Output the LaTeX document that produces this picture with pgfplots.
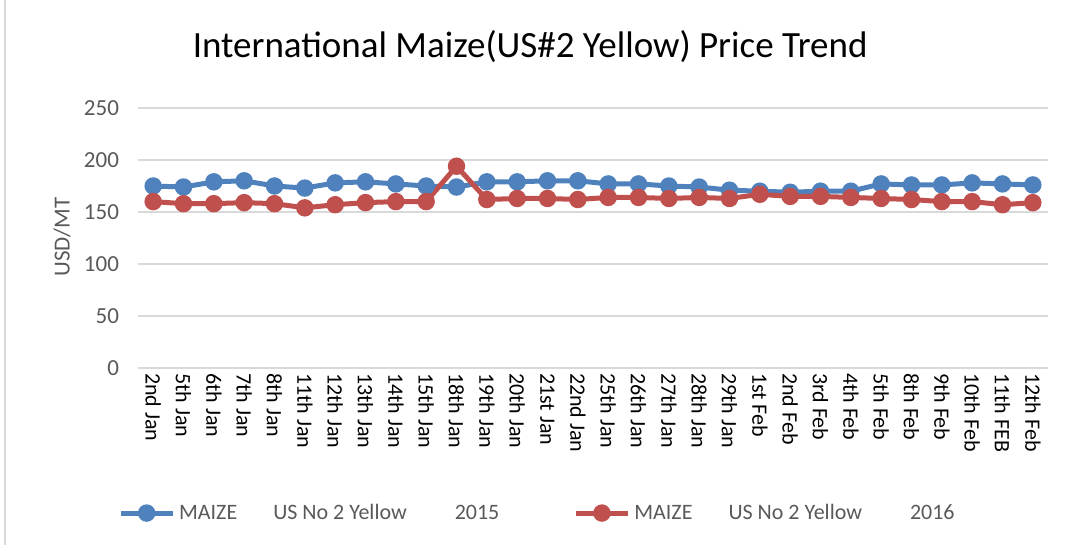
\documentclass[border=0pt]{standalone}
\usepackage{pgfplots}
\pgfplotsset{compat=1.18}
\usepackage{fontspec}
\setmainfont{Carlito}
\definecolor{sblue}{HTML}{4F81BD}
\definecolor{sred}{HTML}{C0504D}
\definecolor{gridc}{HTML}{D9D9D9}
\definecolor{txt}{HTML}{595959}
\begin{document}
\begin{tikzpicture}
\path[use as bounding box] (0pt,0pt) rectangle (533.5pt,272.5pt);
\draw[gridc, line width=1pt] (2.5pt,0pt) -- (2.5pt,272.5pt);
\begin{axis}[
  at={(69pt,88.5pt)}, anchor=south west,
  scale only axis, width=455pt, height=130pt,
  xmin=-0.5, xmax=29.5, ymin=0, ymax=250,
  ytick={0,50,...,250},
  xtick={0,...,29},
  xticklabels={2nd Jan,5th Jan,6th Jan,7th Jan,8th Jan,11th Jan,12th Jan,13th Jan,14th Jan,15th Jan,18th Jan,19th Jan,20th Jan,21st Jan,22nd Jan,25th Jan,26th Jan,27th Jan,28th Jan,29th Jan,1st Feb,2nd Feb,3rd Feb,4th Feb,5th Feb,8th Feb,9th Feb,10th Feb,11th FEB,12th Feb},
  x tick label style={rotate=-90, anchor=west, font=\fontsize{11}{12}\selectfont, text=black, xshift=-1pt},
  y tick label style={font=\fontsize{11.5}{12}\selectfont, text=txt, xshift=-6pt},
  /pgf/number format/assume math mode=true,
  major tick length=0pt,
  ymajorgrids, grid style={gridc, line width=0.8pt},
  axis line style={draw=none},
  axis x line*=bottom, axis y line*=left,
  clip=false,
  title={International Maize(US\#2 Yellow) Price Trend},
  every axis title shift=0pt,
  title style={at={(0.431,1.235)}, anchor=center, yshift=0pt, font=\fontsize{18.5}{20}\selectfont, text=black},
  ylabel={USD/MT},
  ylabel style={at={(-0.0835,0.504)}, anchor=center, rotate=0, font=\fontsize{11.5}{12}\selectfont, text=txt},
  legend columns=2,
  legend style={at={(0.44,-0.558)}, anchor=center, draw=none, fill=none,
    font=\fontsize{11}{12}\selectfont, text=txt,
    /tikz/every even column/.append style={column sep=35pt}},
  legend image code/.code={
    \draw[#1, mark=none] (0pt,0pt) -- (26pt,0pt);
    \draw[#1, only marks] plot coordinates {(13pt,0pt)};
  },
]
\draw[gridc, line width=0.8pt] (axis cs:-0.5,0) -- (axis cs:29.5,0);
\addplot[sblue, line width=2.5pt, mark=*, mark size=3.1pt, mark options={solid}] coordinates {
(0,175)(1,174)(2,179)(3,180)(4,175)(5,173)(6,178)(7,179)(8,177)(9,175)
(10,174)(11,179)(12,179)(13,180)(14,180)(15,177)(16,177)(17,175)(18,174)(19,171)
(20,170)(21,169)(22,170)(23,170)(24,177)(25,176)(26,176)(27,178)(28,177)(29,176)};
\addlegendentry{MAIZE\hspace{18pt}US No 2 Yellow\hspace{24pt}2015}
\addplot[sred, line width=2.5pt, mark=*, mark size=3.1pt, mark options={solid}] coordinates {
(0,160)(1,158)(2,158)(3,159)(4,158)(5,154)(6,157)(7,159)(8,160)(9,160)
(10,194)(11,162)(12,163)(13,163)(14,162)(15,164)(16,164)(17,163)(18,164)(19,163)
(20,167)(21,165)(22,165)(23,164)(24,163)(25,162)(26,160)(27,160)(28,157)(29,159)};
\addlegendentry{MAIZE\hspace{18pt}US No 2 Yellow\hspace{24pt}2016}
\end{axis}
\end{tikzpicture}
\end{document}
